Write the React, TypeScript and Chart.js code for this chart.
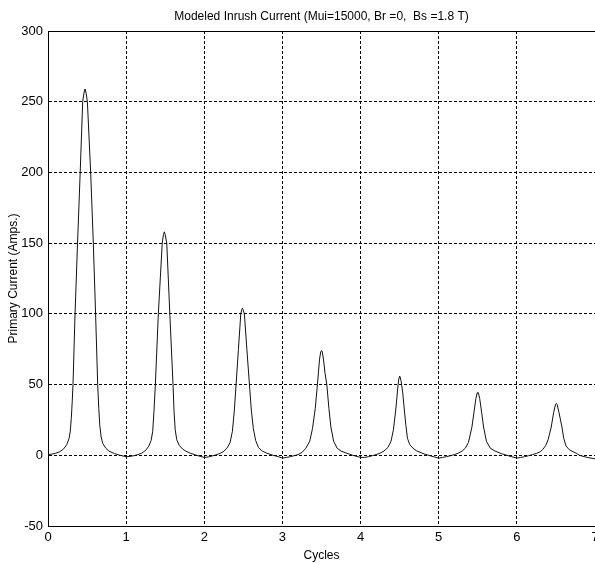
import { useEffect, useRef } from "react";
import { Chart, registerables } from "chart.js";

Chart.register(...registerables);

const TITLE = "Modeled Inrush Current (Mui=15000, Br =0,  Bs =1.8 T)";
const X_TITLE = "Cycles";
const Y_TITLE = "Primary Current (Amps.)";

const X_MIN = 0;
const X_MAX = 7;
const X_STEP = 1;
const Y_MIN = -50;
const Y_MAX = 300;
const Y_STEP = 50;

const cycles = [
  0.0, 0.05, 0.1, 0.15, 0.2, 0.24, 0.27, 0.285, 0.298, 0.31, 0.32, 0.346, 0.378, 0.412, 0.444, 0.46, 0.474, 0.488, 0.504, 0.546, 0.58, 0.609, 0.636, 0.65, 0.663, 0.68, 0.7, 0.74, 0.78, 0.85, 0.92, 1.0,
  1.05, 1.1, 1.15, 1.2, 1.25, 1.29, 1.32, 1.34, 1.355, 1.374, 1.412, 1.462, 1.477, 1.489, 1.5, 1.52, 1.559, 1.6, 1.613, 1.628, 1.648, 1.68, 1.72, 1.76, 1.82, 1.9, 2.0,
  2.05, 2.1, 2.15, 2.2, 2.25, 2.29, 2.33, 2.36, 2.385, 2.407, 2.437, 2.467, 2.48, 2.488, 2.496, 2.513, 2.545, 2.578, 2.602, 2.627, 2.657, 2.693, 2.74, 2.8, 2.88, 2.95, 3.0,
  3.05, 3.1, 3.15, 3.2, 3.25, 3.3, 3.35, 3.385, 3.42, 3.448, 3.475, 3.49, 3.5, 3.51, 3.525, 3.545, 3.568, 3.595, 3.62, 3.655, 3.7, 3.75, 3.82, 3.9, 4.0,
  4.05, 4.1, 4.15, 4.2, 4.25, 4.3, 4.35, 4.39, 4.42, 4.45, 4.48, 4.492, 4.5, 4.508, 4.52, 4.54, 4.56, 4.58, 4.6, 4.63, 4.67, 4.72, 4.8, 4.9, 5.0,
  5.05, 5.1, 5.15, 5.2, 5.25, 5.3, 5.34, 5.38, 5.425, 5.45, 5.475, 5.492, 5.5, 5.508, 5.525, 5.55, 5.574, 5.61, 5.66, 5.72, 5.8, 5.9, 6.0,
  6.05, 6.1, 6.15, 6.2, 6.25, 6.3, 6.33, 6.37, 6.4, 6.44, 6.47, 6.495, 6.505, 6.515, 6.54, 6.577, 6.6, 6.63, 6.67, 6.72, 6.76, 6.8, 6.9, 7.0,
];

const current = [
  0.5, 0.8, 1.5, 2.5, 4.5, 7.5, 12, 17, 26, 38, 50, 100, 150, 200, 250, 256, 259, 256, 250, 200, 150, 100, 50, 33, 21, 13, 8.5, 5, 3, 1.2, 0, -1,
  -0.8, -0.3, 0.5, 1.5, 3.5, 6.5, 10.5, 17, 30, 50, 100, 150, 156, 158, 156, 150, 100, 50, 31, 18, 11, 7, 4.5, 3, 1.5, 0, -1.5,
  -1.2, -0.5, 0.3, 1.3, 2.8, 5, 9, 17, 32, 50, 75, 100, 103, 104, 103, 100, 75, 50, 32, 19, 10.5, 5.5, 3, 1.5, 0, -1, -2,
  -1.5, -1, -0.3, 0.5, 2, 5, 10, 19, 33, 50, 68, 73, 74, 73, 68, 58, 50, 33, 20, 10, 5, 3, 1.5, 0, -1.5,
  -1.5, -1, -0.3, 0.5, 1.5, 3, 5.5, 10, 18, 32, 50, 55, 56, 55, 52, 44, 32, 21, 12, 7.5, 5, 3, 1.2, -0.5, -2,
  -1.5, -1, -0.3, 0.5, 1.5, 3, 5, 9, 20, 30, 40, 44, 44.5, 44, 40, 30, 20, 10, 5, 3, 1.2, -0.5, -2,
  -1.5, -1, -0.3, 0.5, 1.3, 2.5, 4, 7, 11, 20, 30, 36, 36.7, 36, 30, 20, 12, 6.5, 4, 2.5, 1.5, 0, -1.5, -2.5,
];

const FONT = "'Liberation Sans', Arial, Helvetica, sans-serif";
const CANVAS_W = 640;
const CANVAS_H = 563;

const frameTop = {
  id: "frameTop",
  afterDraw(chart: any) {
    const { ctx, chartArea } = chart;
    ctx.save();
    ctx.strokeStyle = "#000";
    ctx.lineWidth = 1;
    ctx.beginPath();
    const y = Math.round(chartArea.top) + 0.5;
    ctx.moveTo(chartArea.left, y);
    ctx.lineTo(chartArea.right, y);
    ctx.stroke();
    ctx.restore();
  },
};

export default function App() {
  const ref = useRef<HTMLCanvasElement>(null);

  useEffect(() => {
    document.body.style.margin = "0";
    const chart = new Chart(ref.current as HTMLCanvasElement, {
      type: "line",
      data: {
        datasets: [
          {
            data: cycles.map((x, i) => ({ x, y: current[i] })),
            borderColor: "#111",
            borderWidth: 1,
            pointRadius: 0,
            tension: 0,
            fill: false,
          },
        ],
      },
      options: {
        animation: false,
        responsive: false,
        devicePixelRatio: 1,
        layout: { padding: { left: 0, right: CANVAS_W - 595, top: 0, bottom: 0 } },
        plugins: {
          legend: { display: false },
          tooltip: { enabled: false },
          title: {
            display: true,
            text: TITLE,
            fullSize: false,
            color: "#000",
            font: { family: FONT, size: 12, weight: "normal" },
            padding: { top: 9, bottom: 7.6 },
          },
        },
        scales: {
          x: {
            type: "linear",
            min: X_MIN,
            max: X_MAX,
            ticks: {
              stepSize: X_STEP,
              color: "#000",
              font: { family: FONT, size: 13 },
              padding: 4,
              maxRotation: 0,
            },
            grid: { color: "#000", lineWidth: 1, drawTicks: false },
            border: { display: true, color: "#000", width: 1, dash: [3, 2] },
            title: {
              display: true,
              text: X_TITLE,
              color: "#000",
              font: { family: FONT, size: 12 },
              padding: { top: 0, bottom: 0 },
            },
            afterFit(scale: any) {
              scale.height = 37;
              scale.paddingLeft = 0;
              scale.paddingRight = 0;
            },
          },
          y: {
            type: "linear",
            min: Y_MIN,
            max: Y_MAX,
            ticks: {
              stepSize: Y_STEP,
              color: "#000",
              font: { family: FONT, size: 13 },
              padding: 5,
            },
            grid: { color: "#000", lineWidth: 1, drawTicks: false },
            border: { display: true, color: "#000", width: 1, dash: [3, 2] },
            title: {
              display: true,
              text: Y_TITLE,
              color: "#000",
              font: { family: FONT, size: 12 },
              padding: { top: 6, bottom: 0 },
            },
            afterFit(scale: any) {
              scale.width = 48;
              scale.paddingTop = 0;
              scale.paddingBottom = 0;
            },
          },
        },
      },
      plugins: [frameTop],
    } as any);
    return () => chart.destroy();
  }, []);

  return (
    <div style={{ width: 595, height: 563, overflow: "hidden", position: "relative", background: "#fff" }}>
      <canvas ref={ref} width={CANVAS_W} height={CANVAS_H} style={{ display: "block" }} />
    </div>
  );
}
